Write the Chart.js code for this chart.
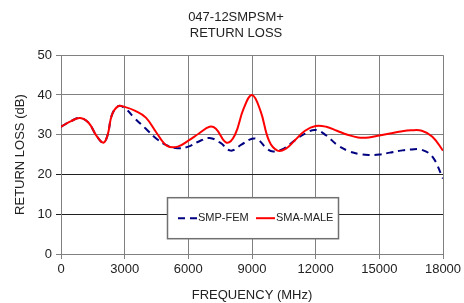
<!DOCTYPE html>
<html>
<head>
<meta charset="utf-8">
<script src="https://cdn.jsdelivr.net/npm/chart.js@4.4.1/dist/chart.umd.min.js"></script>
<style>
    html, body { margin: 0; padding: 0; background: #fff; }
    #wrap { width: 464px; height: 303px; }
</style>
</head>
<body>
<div id="wrap"><canvas id="chart" width="464" height="303"></canvas></div>
<script>
const titleLines = ['047-12SMPSM+', 'RETURN LOSS'];
const xTicks = [0, 3000, 6000, 9000, 12000, 15000, 18000];

const femFreq = [0, 500, 900, 1300, 1700, 2000, 2200, 2400, 2700, 3000, 3500, 4000, 4500, 5000, 5500, 6000, 6500, 7000, 7500, 8000, 8500, 9000, 9300, 9700, 10000, 10500, 11000, 11500, 12000, 12500, 13000, 13500, 14000, 14500, 15000, 15500, 16000, 16500, 17000, 17500, 18000];
const femLoss = [32, 33.5, 34.2, 33, 29.5, 28, 30, 35, 37.2, 36.7, 34, 31.5, 29, 27.3, 26.6, 27, 28.3, 29.2, 28, 26, 27.5, 29, 28.7, 26.5, 25.8, 26.5, 28.5, 30.3, 31.2, 29.8, 27.5, 26, 25.2, 24.9, 25, 25.5, 26, 26.3, 26.2, 24.5, 19];

const maleFreq = [0, 500, 900, 1300, 1700, 2000, 2200, 2400, 2700, 3000, 3500, 4000, 4500, 5000, 5500, 6000, 6500, 7000, 7300, 7800, 8200, 8600, 9000, 9400, 9800, 10200, 10600, 11000, 11500, 12000, 12500, 13000, 13500, 14000, 14500, 15000, 15500, 16000, 16500, 17000, 17500, 18000];
const maleLoss = [32, 33.5, 34.2, 33, 29.5, 28, 30, 35, 37.2, 37, 36, 34.3, 30.5, 27.2, 27, 28.5, 30.3, 32, 31.5, 28, 30, 36.5, 40, 36, 28.5, 26, 26.5, 28.5, 31, 32.2, 32, 31, 30, 29.3, 29.3, 29.8, 30.3, 30.8, 31.1, 31, 29.5, 26];

const font = '"Liberation Sans", Arial, sans-serif';

const toPoints = (xs, ys) => xs.map((x, i) => ({ x, y: ys[i] }));

// legend box drawn inside the plot, like the original
const boxLegend = {
    id: 'boxLegend',
    afterDraw(chart) {
        const { ctx, chartArea } = chart;
        const left = chartArea.left + 106;
        const top = chartArea.top + 142;
        const w = 171, h = 41;
        ctx.save();
        ctx.fillStyle = '#fff';
        ctx.fillRect(left, top, w, h);
        ctx.strokeStyle = '#707070';
        ctx.lineWidth = 1.5;
        ctx.strokeRect(left + 0.5, top + 0.5, w, h);
        const ys = top + 21;
        ctx.font = '11px ' + font;
        ctx.textBaseline = 'middle';
        ctx.fillStyle = '#222';
        let x = left + 11;
        ['fem', 'male'].forEach(key => {
            const ds = chart.data.datasets.find(d => d.key === key);
            ctx.strokeStyle = ds.borderColor;
            ctx.lineWidth = 2;
            ctx.setLineDash(ds.borderDash || []);
            ctx.beginPath();
            ctx.moveTo(x, ys);
            ctx.lineTo(x + 19, ys);
            ctx.stroke();
            ctx.setLineDash([]);
            ctx.fillText(ds.label, x + 20, ys);
            x += 78;
        });
        ctx.restore();
    }
};

new Chart(document.getElementById('chart'), {
    type: 'line',
    data: {
        datasets: [
            {
                key: 'fem',
                label: 'SMP-FEM',
                data: toPoints(femFreq, femLoss),
                borderColor: '#000080',
                borderWidth: 2,
                borderDash: [7, 5],
                pointRadius: 0,
                tension: 0.4,
                order: 2
            },
            {
                key: 'male',
                label: 'SMA-MALE',
                data: toPoints(maleFreq, maleLoss),
                borderColor: '#ff0000',
                borderWidth: 2,
                pointRadius: 0,
                tension: 0.4,
                order: 1
            }
        ]
    },
    plugins: [boxLegend],
    options: {
        responsive: false,
        animation: false,
        layout: { padding: { left: 8, right: 0, top: 0, bottom: 0 } },
        plugins: {
            legend: { display: false },
            tooltip: { enabled: false },
            title: {
                display: true,
                text: titleLines,
                color: '#222',
                font: { family: font, size: 13, weight: 'normal', lineHeight: 1.2 },
                padding: { top: 10, bottom: 14 }
            }
        },
        scales: {
            x: {
                type: 'linear',
                min: 0,
                max: 18000,
                afterBuildTicks: scale => { scale.ticks = xTicks.map(v => ({ value: v })); },
                afterFit: scale => { scale.height = 49; scale.paddingRight = 21; },
                grid: { color: '#808080', lineWidth: 1, tickLength: 5 },
                border: { color: '#808080' },
                ticks: {
                    color: '#222',
                    font: { family: font, size: 13 },
                    padding: 3,
                    maxRotation: 0,
                    callback: v => String(v)
                },
                title: {
                    display: true,
                    text: 'FREQUENCY (MHz)',
                    color: '#222',
                    font: { family: font, size: 13 },
                    padding: { top: 4, bottom: 0 }
                }
            },
            y: {
                min: 0,
                max: 50,
                ticks: {
                    stepSize: 10,
                    color: '#222',
                    font: { family: font, size: 13 },
                    padding: 4
                },
                afterFit: scale => { scale.width = 53; },
                grid: {
                    color: ctx => (ctx.tick && (ctx.tick.value === 10 || ctx.tick.value === 20)) ? '#202020' : '#808080',
                    lineWidth: 1,
                    tickLength: 5
                },
                border: { color: '#808080' },
                title: {
                    display: true,
                    text: 'RETURN LOSS (dB)',
                    color: '#222',
                    font: { family: font, size: 13 },
                    padding: { top: 5, bottom: 2 }
                }
            }
        }
    }
});
</script>
</body>
</html>
